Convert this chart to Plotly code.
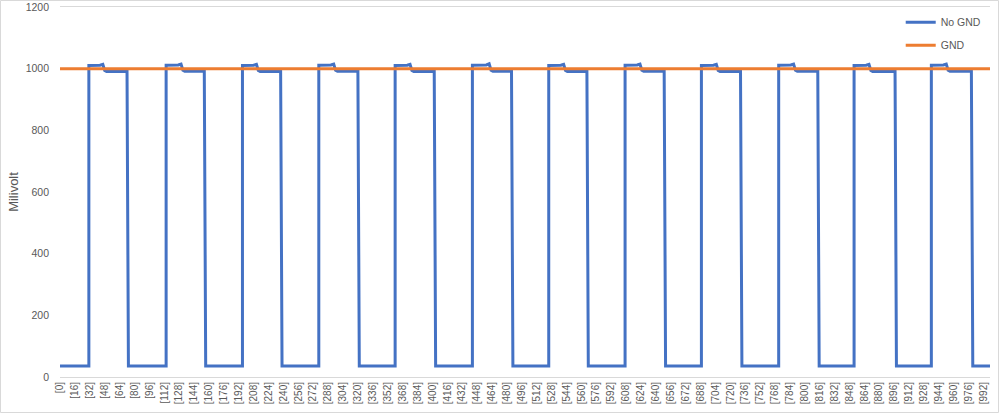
import plotly.graph_objects as go

# Sample index where each "No GND" pulse goes high / drops / goes low again
rise_at = [31, 114, 196, 278, 360, 443, 525, 607, 689, 772, 853, 936]
dip_at = [48, 132, 213, 296, 378, 463, 543, 625, 707, 790, 871, 954]
fall_at = [72, 155, 237, 320, 402, 485, 566, 649, 731, 814, 897, 979]

# Millivolt levels
start_mv = [1010, 1011, 1010, 1011, 1010, 1011, 1010, 1011, 1010, 1011, 1010, 1011]
peak_mv = [1014, 1015, 1014, 1015, 1014, 1016, 1014, 1015, 1014, 1015, 1014, 1015]
settle_mv = [991, 992, 991, 992, 991, 992, 991, 992, 991, 992, 991, 992]
low_mv = 36

first_sample = 0
last_sample = 999

gnd_x = [first_sample, last_sample]
gnd_y = [1000, 1000]

tick_samples = list(range(0, 993, 16))
tick_labels = [f"[{s}]" for s in tick_samples]

BLUE = "#4472C4"
ORANGE = "#ED7D31"
TEXT = "#595959"
LINE = "#D9D9D9"
FONT = "Liberation Sans"


def build_no_gnd():
    xs = [first_sample]
    ys = [low_mv]
    for i in range(len(rise_at)):
        xs += [rise_at[i], rise_at[i], dip_at[i] - 5, dip_at[i] - 2, dip_at[i],
               dip_at[i] + 2, fall_at[i], fall_at[i] + 1.5]
        ys += [low_mv, start_mv[i], start_mv[i] + 1, peak_mv[i], settle_mv[i] + 3,
               settle_mv[i], settle_mv[i], low_mv]
    xs.append(last_sample)
    ys.append(low_mv)
    return xs, ys


no_gnd_x, no_gnd_y = build_no_gnd()

fig = go.Figure()
fig.add_trace(
    go.Scatter(
        x=no_gnd_x,
        y=no_gnd_y,
        mode="lines",
        name="No GND",
        legendgroup="a",
        line=dict(color=BLUE, width=3),
    )
)
fig.add_trace(
    go.Scatter(
        x=gnd_x,
        y=gnd_y,
        mode="lines",
        name="GND",
        legendgroup="b",
        line=dict(color=ORANGE, width=3),
    )
)

fig.update_layout(
    width=999,
    height=413,
    margin=dict(l=60, r=9, t=7, b=36, autoexpand=False),
    paper_bgcolor="white",
    plot_bgcolor="white",
    font=dict(family=FONT, color=TEXT, size=11),
    legend=dict(
        x=0.904,
        y=0.998,
        xanchor="left",
        yanchor="top",
        font=dict(size=10.5, color=TEXT),
        tracegroupgap=4,
        bgcolor="rgba(0,0,0,0)",
    ),
)

fig.update_xaxes(
    range=[first_sample, last_sample],
    tickmode="array",
    tickvals=tick_samples,
    ticktext=tick_labels,
    tickangle=-90,
    tickfont=dict(size=10, color=TEXT),
    showgrid=False,
    zeroline=False,
    showline=True,
    linecolor=LINE,
    linewidth=1,
    mirror=True,
    ticks="",
    automargin=False,
)
fig.update_yaxes(
    range=[0, 1200],
    dtick=200,
    tickfont=dict(size=10.5, color=TEXT),
    ticklabelstandoff=10,
    showgrid=False,
    zeroline=False,
    showline=False,
    automargin=False,
    title=dict(text="Milivolt", font=dict(size=13, color=TEXT), standoff=4),
)

# Light border round the whole chart, like the spreadsheet chart frame
fig.add_shape(
    type="rect",
    xref="paper",
    yref="paper",
    x0=(0.5 - 60) / 930,
    x1=(998.5 - 60) / 930,
    y0=(377 - 412.5) / 370,
    y1=(377 - 0.5) / 370,
    line=dict(color=LINE, width=1),
    layer="below",
)

# Drop the default page margin so the chart sits at the window's corner
fig.write_html(
    "out.html",
    config={"displayModeBar": False},
    post_script="document.body.style.margin='0';",
)
